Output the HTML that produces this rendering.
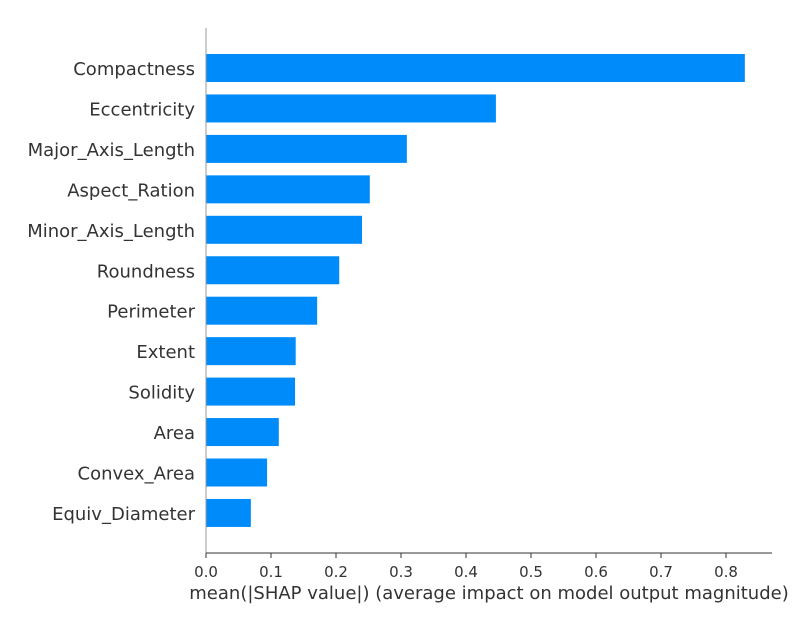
<!DOCTYPE html>
<html><head><meta charset="utf-8"><style>
body{margin:0;background:#fff;}
svg text{font-family:"DejaVu Sans","Liberation Sans",sans-serif;fill:#333;}
</style></head><body>
<svg id="chart" width="800" height="630" xmlns="http://www.w3.org/2000/svg"></svg>
<script>
const categories = ["Compactness","Eccentricity","Major_Axis_Length","Aspect_Ration","Minor_Axis_Length","Roundness","Perimeter","Extent","Solidity","Area","Convex_Area","Equiv_Diameter"];
const values = [0.829,0.446,0.309,0.252,0.240,0.205,0.171,0.138,0.137,0.112,0.094,0.069];
const ticks = [0,0.1,0.2,0.3,0.4,0.5,0.6,0.7,0.8];
const tickLabels = ["0.0","0.1","0.2","0.3","0.4","0.5","0.6","0.7","0.8"];

const svg = document.getElementById('chart');
const NS = "http://www.w3.org/2000/svg";
const x0 = 206, pxPerUnit = 650, yTop = 68, step = 40.45, barH = 28, axisY = 553;
const xs = v => x0 + v * pxPerUnit;
const ys = i => yTop + i * step;
function mk(tag, attrs, text){
  const e = document.createElementNS(NS, tag);
  for (const k in attrs) e.setAttribute(k, attrs[k]);
  if (text !== undefined) e.textContent = text;
  svg.appendChild(e);
  return e;
}
categories.forEach((c, i) => {
  const b = mk('rect', {x: x0, y: ys(i) - barH/2, width: xs(values[i]) - x0, height: barH, fill: '#008bfb'});
  
  
  const t = mk('text', {x: 195, y: ys(i) + 7, 'text-anchor': 'end', 'font-size': 18}, c);
  
  
});
const ly = mk('line', {x1: x0, y1: 28, x2: x0, y2: axisY, stroke: '#999', 'stroke-width': 1});


const lx = mk('line', {x1: x0, y1: axisY, x2: 772, y2: axisY, stroke: '#333', 'stroke-width': 1});


ticks.forEach((v, i) => {
  const tk = mk('line', {x1: xs(v), y1: axisY, x2: xs(v), y2: axisY + 5, stroke: '#333'});
  
  
  const tl = mk('text', {x: xs(v), y: 577, 'text-anchor': 'middle', 'font-size': 15}, tickLabels[i]);
  
  
});
const title = mk('text', {x: 489, y: 599, 'text-anchor': 'middle', 'font-size': 18}, "mean(|SHAP value|) (average impact on model output magnitude)");


</script>
</body></html>
